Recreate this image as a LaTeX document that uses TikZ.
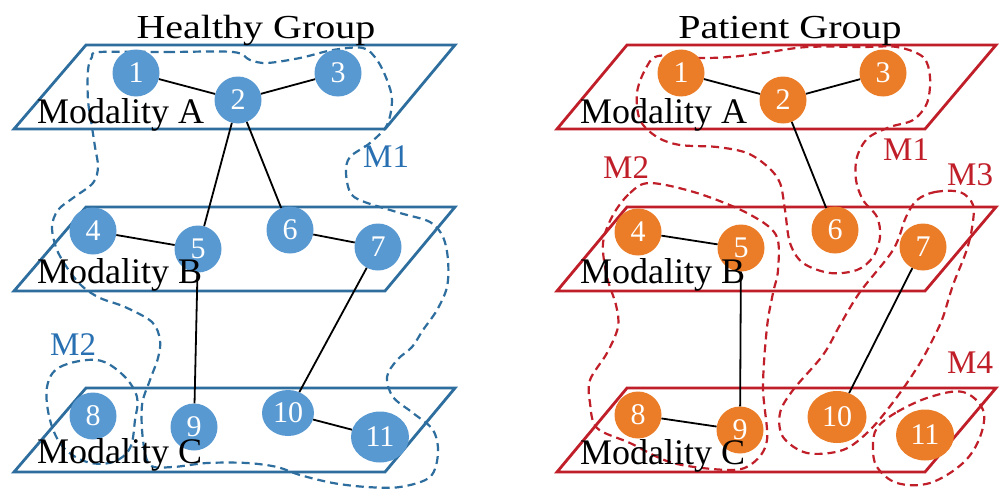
\documentclass[tikz,border=0pt]{standalone}
\usepackage{fontspec}
\setmainfont{Liberation Serif}
\usetikzlibrary{shapes.geometric}
\definecolor{bfill}{RGB}{88,153,210}
\definecolor{bline}{RGB}{46,110,158}
\definecolor{blab}{RGB}{40,112,178}
\definecolor{ofill}{RGB}{236,125,40}
\definecolor{rline}{RGB}{192,30,40}
\begin{document}
\begin{tikzpicture}[x=1pt,y=-1pt,
  plane/.style={line width=2.8pt, line join=miter},
  blob/.style={line width=2.2pt, dash pattern=on 8pt off 5pt},
  gnode/.style={circle, inner sep=0pt, minimum size=47pt, text=white, font=\fontsize{30}{30}\selectfont},
  bnode/.style={gnode, fill=bfill},
  onode/.style={gnode, fill=ofill},
  enode/.style={ellipse, inner sep=0pt, text=white, font=\fontsize{30}{30}\selectfont},
  edge/.style={line width=1.8pt, black},
  modlab/.style={anchor=base west, inner sep=0pt, font=\fontsize{36}{36}\selectfont},
  ttl/.style={anchor=base, inner sep=0pt, font=\fontsize{40}{40}\selectfont},
  mlab/.style={anchor=base west, inner sep=0pt, font=\fontsize{33}{33}\selectfont}]
\useasboundingbox (0,0) rectangle (1000,495);
\fill[white] (0,0) rectangle (1000,495);
% planes
\foreach \yt/\yb in {45/129,207/291,388/472}{
  \draw[plane, bline] (86,\yt) -- (455,\yt) -- (385,\yb) -- (14,\yb) -- cycle;
  \draw[plane, rline] (627,\yt) -- (996,\yt) -- (925,\yb) -- (557,\yb) -- cycle;
}
% left blobs
\draw[blob, bline] plot[smooth cycle, tension=0.55] coordinates {
 (100,52) (167,52) (233,52) (250,60) (267,63) (300,58) (333,50) (363,48) (377,60) (387,80)
 (392,100) (387,125) (370,143) (350,157) (346,172) (350,192) (362,201) (400,213) (430,222)
 (443,237) (448,260) (447,287) (437,310) (423,330) (412,347) (397,360) (387,377) (393,397)
 (413,413) (433,430) (438,453) (430,477) (400,487) (367,487) (333,483) (300,475) (277,467)
 (247,463) (207,463) (173,467) (150,465) (143,440) (142,405) (150,380) (158,358) (160,340)
 (152,322) (125,307) (100,298) (83,287) (70,272) (57,250) (52,227) (58,210) (73,198) (93,183)
 (98,167) (95,147) (92,127) (88,100) (88,70) (92,57)};
\draw[blob, bline] plot[smooth cycle, tension=0.6] coordinates {
 (47,387) (60,367) (97,360) (123,375) (137,397) (135,420) (130,448) (113,462) (87,462) (63,447) (50,420)};
% right blobs
\draw[blob, rline] plot[smooth cycle, tension=0.55] coordinates {
 (658,56) (697,58) (730,57) (763,53) (807,47) (863,47) (897,47) (923,57) (930,77) (927,103)
 (913,120) (890,127) (868,138) (857,157) (856,180) (863,200) (877,217) (880,237) (873,257)
 (857,270) (830,273) (803,263) (790,243) (785,210) (780,183) (768,167) (747,153) (717,147)
 (680,145) (657,137) (640,120) (637,93) (645,70)};
\draw[blob, rline] plot[smooth cycle, tension=0.55] coordinates {
 (613,215) (630,193) (650,183) (697,193) (747,213) (776,235) (778,270) (773,293) (767,327)
 (763,387) (767,440) (753,463) (730,470) (673,463) (630,443) (597,428) (590,403) (590,380)
 (607,353) (618,327) (616,305) (607,277) (603,243)};
\draw[blob, rline] plot[smooth cycle, tension=0.55] coordinates {
 (917,200) (935,192) (960,192) (973,205) (972,228) (966,252) (953,285) (943,317) (935,335)
 (920,363) (897,397) (870,430) (843,450) (807,453) (783,437) (780,413) (793,390) (823,355)
 (840,325) (860,292) (893,250) (906,217)};
\draw[blob, rline] plot[smooth cycle, tension=0.6] coordinates {
 (877,428) (897,412) (930,397) (963,392) (983,410) (980,437) (963,463) (930,483) (897,483)
 (877,467) (873,447)};
% left nodes
\node[bnode] (L1) at (136,73) {1};
\node[bnode] (L2) at (238,100) {2};
\node[bnode] (L3) at (338,73) {3};
\node[bnode] (L4) at (93,231) {4};
\node[bnode] (L5) at (198,249) {5};
\node[bnode] (L6) at (290,230) {6};
\node[bnode] (L7) at (378,247) {7};
\node[bnode] (L8) at (93,416) {8};
\node[bnode] (L9) at (194,427) {9};
\node[enode, fill=bfill, minimum width=52pt, minimum height=46pt] (L10) at (288,413) {10};
\node[enode, fill=bfill, minimum width=58pt, minimum height=51pt] (L11) at (380,437) {11};
% right nodes
\node[onode] (R1) at (681,73) {1};
\node[onode] (R2) at (783,100) {2};
\node[onode] (R3) at (883,73) {3};
\node[onode] (R4) at (638,232) {4};
\node[onode] (R5) at (741,248) {5};
\node[onode] (R6) at (835,230) {6};
\node[onode] (R7) at (923,247) {7};
\node[onode] (R8) at (638,415) {8};
\node[onode] (R9) at (740,430) {9};
\node[enode, fill=ofill, minimum width=59pt, minimum height=52pt] (R10) at (837,417) {10};
\node[enode, fill=ofill, minimum width=58pt, minimum height=51pt] (R11) at (925,435) {11};
% labels
\node[ttl] (T1) at (256,39) {\scalebox{1}[0.84]{Healthy Group}};
\node[ttl] (T2) at (790,39) {\scalebox{1}[0.84]{Patient Group}};
\node[modlab] (LA) at (37,123) {Modality A};
\node[modlab] (LB) at (37,283) {Modality B};
\node[modlab] (LC) at (37,463) {Modality C};
\node[modlab] (RA) at (580,123) {Modality A};
\node[modlab] (RB) at (580,283) {Modality B};
\node[modlab] (RC) at (580,464) {Modality C};
\node[mlab, text=blab] (LM1) at (363,167) {M1};
\node[mlab, text=blab] (LM2) at (50,355) {M2};
\node[mlab, text=rline] (RM1) at (883,160) {M1};
\node[mlab, text=rline] (RM2) at (603,178) {M2};
\node[mlab, text=rline] (RM3) at (947,185) {M3};
\node[mlab, text=rline] (RM4) at (947,373) {M4};
% edges
\draw[edge] (L1) -- (L2);
\draw[edge] (L2) -- (L3);
\draw[edge] (L2) -- (L5);
\draw[edge] (L2) -- (L6);
\draw[edge] (L4) -- (L5);
\draw[edge] (L6) -- (L7);
\draw[edge] (L5) -- (L9);
\draw[edge] (L7) -- (L10);
\draw[edge] (L10) -- (L11);
\draw[edge] (R1) -- (R2);
\draw[edge] (R2) -- (R3);
\draw[edge] (R2) -- (R6);
\draw[edge] (R4) -- (R5);
\draw[edge] (R5) -- (R9);
\draw[edge] (R7) -- (R10);
\draw[edge] (R8) -- (R9);
\end{tikzpicture}
\end{document}
